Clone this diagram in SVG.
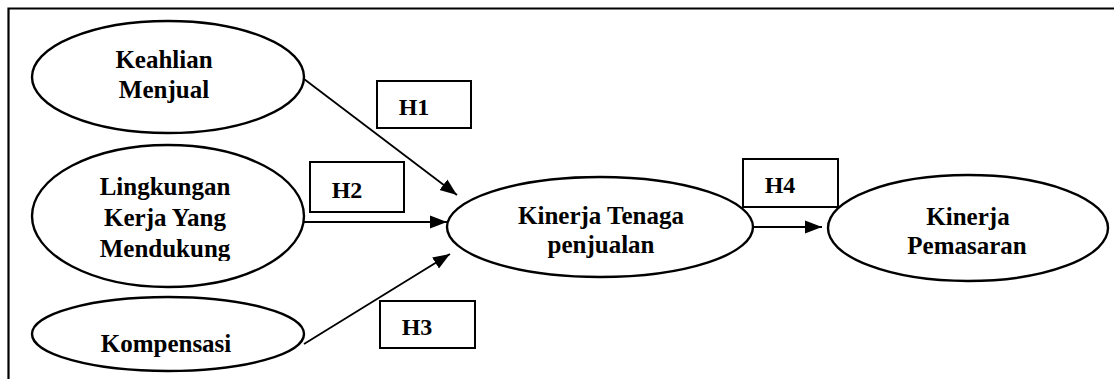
<svg xmlns="http://www.w3.org/2000/svg" width="1114" height="379" viewBox="0 0 1114 379">
  <style>
    .node ellipse { fill: #ffffff; stroke: #000000; stroke-width: 2.4; }
    .label rect { fill: #ffffff; stroke: #000000; stroke-width: 2; }
    text { font-family: "Liberation Serif", "Times New Roman", serif; font-weight: bold; fill: #000000; text-anchor: middle; }
    .nt { font-size: 25px; }
    .ht { font-size: 24px; }
    .conn line { stroke: #000000; stroke-width: 1.8; }
    .frame { fill: none; stroke: #000000; stroke-width: 2.2; }
  </style>
  <defs>
    <marker id="arrow" markerUnits="userSpaceOnUse" markerWidth="18" markerHeight="14" refX="17" refY="7" orient="auto">
      <path d="M0,0.5 L17,7 L0,13.5 z" fill="#000000"/>
    </marker>
    <clipPath id="clipL">
      <rect x="0" y="0" width="1114" height="261"/>
    </clipPath>
  </defs>
  <rect width="1114" height="379" fill="#ffffff"/>
  <path class="frame" d="M8.5,379 L8.5,8.5 L1114,8.5"/>

  <g id="connectors" class="conn">
    <line x1="304" y1="79" x2="457" y2="195" marker-end="url(#arrow)"/>
    <line x1="304" y1="222" x2="447" y2="222" marker-end="url(#arrow)"/>
    <line x1="304" y1="344" x2="450" y2="254" marker-end="url(#arrow)"/>
    <line x1="752" y1="227" x2="822" y2="227" marker-end="url(#arrow)"/>
  </g>

  <g id="keahlian" class="node">
    <ellipse cx="168" cy="77" rx="136" ry="56"/>
    <text class="nt" x="164" y="68">Keahlian</text>
    <text class="nt" x="164" y="98">Menjual</text>
  </g>
  <g id="lingkungan" class="node">
    <ellipse cx="168" cy="216" rx="136" ry="71"/>
    <text class="nt" x="165" y="195">Lingkungan</text>
    <text class="nt" x="165" y="226">Kerja Yang</text>
    <text class="nt" x="165" y="257" clip-path="url(#clipL)">Mendukung</text>
  </g>
  <g id="kompensasi" class="node">
    <ellipse cx="168" cy="334" rx="136" ry="37"/>
    <text class="nt" x="166" y="352">Kompensasi</text>
  </g>
  <g id="kinerja-tenaga" class="node">
    <ellipse cx="600" cy="227" rx="153" ry="50"/>
    <text class="nt" x="601" y="224">Kinerja Tenaga</text>
    <text class="nt" x="601" y="253">penjualan</text>
  </g>
  <g id="kinerja-pemasaran" class="node">
    <ellipse cx="968" cy="228" rx="140" ry="53"/>
    <text class="nt" x="968" y="225">Kinerja</text>
    <text class="nt" x="967" y="254">Pemasaran</text>
  </g>

  <g id="h1" class="label">
    <rect x="377" y="81" width="94" height="47"/>
    <text class="ht" x="414" y="115">H1</text>
  </g>
  <g id="h2" class="label">
    <rect x="310" y="162" width="94" height="50"/>
    <text class="ht" x="347" y="198">H2</text>
  </g>
  <g id="h3" class="label">
    <rect x="380" y="301" width="95" height="47"/>
    <text class="ht" x="417" y="335">H3</text>
  </g>
  <g id="h4" class="label">
    <rect x="743" y="159" width="95" height="48"/>
    <text class="ht" x="780" y="193">H4</text>
  </g>
</svg>
